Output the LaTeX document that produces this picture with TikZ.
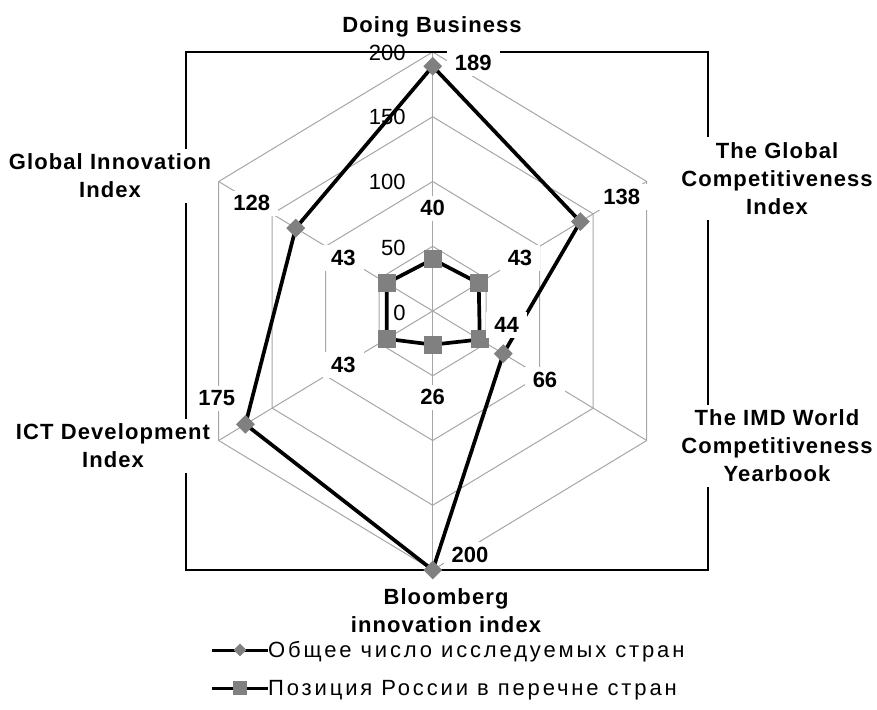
\documentclass[tikz,border=0pt]{standalone}
\usepackage{fontspec}
\setmainfont{Liberation Sans}
\newfontfamily\catfont[LetterSpace=5]{Liberation Sans}
\newfontfamily\legfont[LetterSpace=13]{Liberation Sans}
\usetikzlibrary{shapes.geometric,positioning}

\begin{document}
\begin{tikzpicture}[x=1pt,y=1pt,
  gridline/.style={draw=gray!70, line width=1pt},
  series/.style={draw=black, line width=3.7pt, line join=round},
  totmark/.style={diamond, fill=gray, inner sep=0pt, minimum size=19pt},
  posmark/.style={rectangle, fill=gray, inner sep=0pt, minimum size=18pt},
  catlabel/.style={font=\catfont\bfseries\fontsize{22}{28}\selectfont, align=center, fill=white, inner xsep=6pt, inner ysep=5pt},
  vallabel/.style={font=\bfseries\fontsize{22}{24}\selectfont, fill=white, inner xsep=8pt, inner ysep=5pt},
  ticklabel/.style={font=\fontsize{22}{24}\selectfont, anchor=east, inner sep=0pt},
  legtext/.style={font=\legfont\fontsize{22}{24}\selectfont, anchor=base west, inner sep=0pt}]
\useasboundingbox (-432.7,-398) rectangle (444.3,311);
% radar grid, value axis 0..200
\begin{scope}[x=1.2356pt, y=1.295pt]
\foreach \r in {50,100,150,200}
  \draw[gridline] (90:\r) -- (30:\r) -- (-30:\r) -- (-90:\r) -- (-150:\r) -- (150:\r) -- cycle;
\foreach \a in {90,30,-30,-90,-150,150}
  \draw[gridline] (0,0) -- (\a:200);
% number of countries in each ranking
\coordinate (tDB) at (90:189);
\coordinate (tGCI) at (30:138);
\coordinate (tIMD) at (-30:66);
\coordinate (tBB) at (-90:200);
\coordinate (tICT) at (-150:175);
\coordinate (tGII) at (150:128);
% position of Russia
\coordinate (pDB) at (90:40);
\coordinate (pGCI) at (30:43);
\coordinate (pIMD) at (-30:44);
\coordinate (pBB) at (-90:26);
\coordinate (pICT) at (-150:43);
\coordinate (pGII) at (150:43);
\end{scope}
% plot area frame
\draw[line width=1.6pt] (-246.7,-259) rectangle (275.3,259);
% series
\draw[series] (tDB) -- (tGCI) -- (tIMD) -- (tBB) -- (tICT) -- (tGII) -- cycle;
\draw[series] (pDB) -- (pGCI) -- (pIMD) -- (pBB) -- (pICT) -- (pGII) -- cycle;
\node[totmark] (mtDB) at (tDB) {};
\node[totmark] (mtGCI) at (tGCI) {};
\node[totmark] (mtIMD) at (tIMD) {};
\node[totmark] (mtBB) at (tBB) {};
\node[totmark] (mtICT) at (tICT) {};
\node[totmark] (mtGII) at (tGII) {};
\node[posmark] (mpDB) at (pDB) {};
\node[posmark] (mpGCI) at (pGCI) {};
\node[posmark] (mpIMD) at (pIMD) {};
\node[posmark] (mpBB) at (pBB) {};
\node[posmark] (mpICT) at (pICT) {};
\node[posmark] (mpGII) at (pGII) {};
% value axis labels
\node[ticklabel] (tick0) at (-27,-2) {0};
\node[ticklabel] (tick50) at (-27,63) {50};
\node[ticklabel] (tick100) at (-27,129.5) {100};
\node[ticklabel] (tick150) at (-27,194.3) {150};
\node[ticklabel] (tick200) at (-27,258) {200};
% data labels
\node[vallabel] (vtDB) at (40.6,247.7) {189};
\node[vallabel] (vtGCI) at (189,114.3) {138};
\node[vallabel] (vtIMD) at (112.3,-69) {66};
\node[vallabel] (vtBB) at (37.3,-244) {200};
\node[vallabel] (vtICT) at (-216,-87.3) {175};
\node[vallabel] (vtGII) at (-181,107.7) {128};
\node[vallabel] (vpDB) at (0,102.7) {40};
\node[vallabel] (vpGCI) at (87.3,52.7) {43};
\node[vallabel] (vpIMD) at (74,-14) {44};
\node[vallabel] (vpBB) at (0,-86.3) {26};
\node[vallabel] (vpICT) at (-89.4,-54) {43};
\node[vallabel] (vpGII) at (-89.4,52.7) {43};
% category labels
\node[catlabel] (cDB) at (-0.7,284) {Doing Business};
\node[catlabel] (cGCI) at (344.3,132.5) {The Global\\Competitiveness\\Index};
\node[catlabel] (cIMD) at (344.3,-135) {The IMD World\\Competitiveness\\Yearbook};
\node[catlabel] (cBB) at (13.3,-300) {Bloomberg\\innovation index};
\node[catlabel] (cICT) at (-319.7,-135) {ICT Development\\Index};
\node[catlabel] (cGII) at (-322.7,135) {Global Innovation\\Index};
% legend
\coordinate (legA1) at (-220.7,-339);
\coordinate (legB1) at (-164.7,-339);
\coordinate (legA2) at (-220.7,-377);
\coordinate (legB2) at (-164.7,-377);
\draw[series, line width=3pt] (legA1) -- (legB1);
\draw[series, line width=3pt] (legA2) -- (legB2);
\node[totmark, minimum size=13pt] (legM1) at (-192.7,-339) {};
\node[posmark, minimum size=14pt] (legM2) at (-192.7,-377) {};
\node[legtext] (legT1) at (-164.7,-346) {Общее число исследуемых стран};
\node[legtext] (legT2) at (-164.7,-384) {Позиция России в перечне стран};
\end{tikzpicture}
\end{document}
